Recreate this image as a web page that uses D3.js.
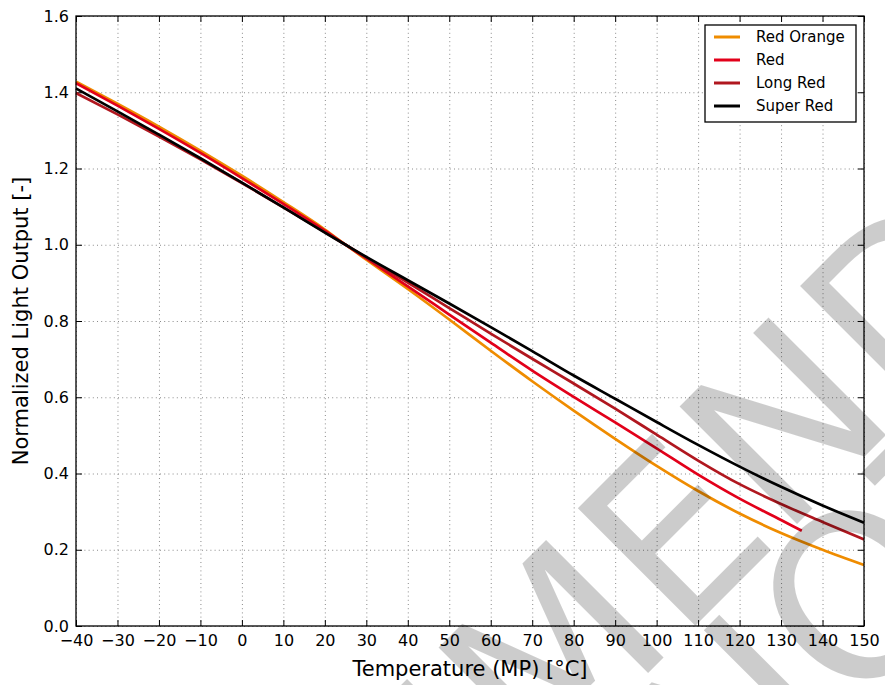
<!DOCTYPE html>
<html><head><meta charset="utf-8">
<script src="https://cdn.jsdelivr.net/npm/d3@7"></script>
<style>
body{margin:0;background:#fff}
svg{display:block}
text{font-family:"DejaVu Sans",sans-serif}
</style>
</head><body>
<svg id="chart" width="885" height="685"></svg>
<script>
// ---- data ----
const temps = [-40,-30,-20,-10,0,10,20,25,30,40,50,60,70,80,90,100,110,120,130,140,150];
const redTemps = [-40,-30,-20,-10,0,10,20,25,30,40,50,60,70,80,90,100,110,120,130,135];
const redOrange = [1.428,1.370,1.310,1.247,1.181,1.112,1.040,1.0,0.961,0.884,0.804,0.722,0.642,0.565,0.491,0.420,0.354,0.295,0.244,0.200,0.160];
const red = [1.424,1.365,1.304,1.241,1.175,1.107,1.037,1.0,0.964,0.891,0.817,0.743,0.670,0.601,0.534,0.466,0.397,0.334,0.278,0.250];
const longRed = [1.398,1.342,1.284,1.224,1.162,1.098,1.033,1.0,0.966,0.901,0.834,0.767,0.701,0.636,0.570,0.502,0.434,0.372,0.320,0.273,0.227];
const superRed = [1.410,1.350,1.289,1.227,1.163,1.098,1.032,1.0,0.968,0.907,0.846,0.784,0.721,0.657,0.596,0.535,0.475,0.418,0.365,0.316,0.271];
const seriesNames = ["Red Orange","Red","Long Red","Super Red"];
const seriesColors = ["#ef8c00","#e2001a","#b0171f","#000000"];
const xTicks = [-40,-30,-20,-10,0,10,20,30,40,50,60,70,80,90,100,110,120,130,140,150];
const yTicks = [0,0.2,0.4,0.6,0.8,1.0,1.2,1.4,1.6];
const xLabel = "Temperature (MP) [°C]";
const yLabel = "Normalized Light Output [-]";
const watermark1 = "NOT RECOMMENDED";
const watermark2 = "NOT RECOMMENDED";

// ---- layout ----
const PL = 76, PR = 864, PT = 16, PB = 626;
const svg = d3.select("#chart");
const x = d3.scaleLinear().domain([-40,150]).range([PL,PR]);
const y = d3.scaleLinear().domain([0,1.6]).range([PB,PT]);

// grid
const grid = svg.append("g").attr("stroke","#8a8a8a").attr("stroke-width",1).attr("stroke-dasharray","1,3.2");
grid.selectAll(".gx").data(xTicks).join("line")
  .attr("x1",d=>x(d)+0.5).attr("x2",d=>x(d)+0.5).attr("y1",PT).attr("y2",PB);
grid.selectAll(".gy").data(yTicks).join("line")
  .attr("y1",d=>y(d)+0.5).attr("y2",d=>y(d)+0.5).attr("x1",PL).attr("x2",PR);

// axes
const fmtX = d => d < 0 ? "\u2212" + (-d) : String(d);
const axB = svg.append("g").attr("transform",`translate(0,${PB})`)
  .call(d3.axisBottom(x).tickValues(xTicks).tickFormat(fmtX).tickSizeInner(-6).tickSizeOuter(0).tickPadding(9));
const axT = svg.append("g").attr("transform",`translate(0,${PT})`)
  .call(d3.axisTop(x).tickValues(xTicks).tickFormat("").tickSizeInner(-6).tickSizeOuter(0));
const axL = svg.append("g").attr("transform",`translate(${PL},0)`)
  .call(d3.axisLeft(y).tickValues(yTicks).tickFormat(d3.format(".1f")).tickSizeInner(-6).tickSizeOuter(0).tickPadding(7));
const axR = svg.append("g").attr("transform",`translate(${PR},0)`)
  .call(d3.axisRight(y).tickValues(yTicks).tickFormat("").tickSizeInner(-6).tickSizeOuter(0));
[axB,axT,axL,axR].forEach(g=>{
  g.select(".domain").remove();
  g.selectAll(".tick line").attr("stroke","#000").attr("stroke-width",1);
  g.selectAll(".tick text").attr("fill","#000").style("font-size","16px").style("font-family","'DejaVu Sans',sans-serif");
});

// lines
const seriesData = [
  temps.map((t,i)=>[t,redOrange[i]]),
  redTemps.map((t,i)=>[t,red[i]]),
  temps.map((t,i)=>[t,longRed[i]]),
  temps.map((t,i)=>[t,superRed[i]])
];
const line = d3.line().x(d=>x(d[0])).y(d=>y(d[1])).curve(d3.curveMonotoneX);
svg.append("g").selectAll("path").data(seriesData).join("path")
  .attr("d",line).attr("fill","none")
  .attr("stroke",(d,i)=>seriesColors[i]).attr("stroke-width",2.7)
  .attr("stroke-linejoin","round");

// frame
svg.append("rect").attr("x",PL).attr("y",PT).attr("width",PR-PL).attr("height",PB-PT)
  .attr("fill","none").attr("stroke","#000").attr("stroke-width",1.3);

// axis labels
svg.append("text").attr("x",(PL+PR)/2).attr("y",676).attr("text-anchor","middle")
  .style("font-size","21px").text(xLabel);
svg.append("text").attr("transform",`translate(28,${(PT+PB)/2}) rotate(-90)`).attr("text-anchor","middle")
  .style("font-size","21px").text(yLabel);

// legend
const lg = svg.append("g");
lg.append("rect").attr("x",705).attr("y",25).attr("width",151).attr("height",97)
  .attr("fill","#fff").attr("stroke","#000").attr("stroke-width",1.3);
const items = lg.selectAll(".it").data(seriesNames).join("g")
  .attr("transform",(d,i)=>`translate(0,${37+23*i})`);
items.append("line").attr("x1",714).attr("x2",740).attr("y1",0).attr("y2",0)
  .attr("stroke",(d,i)=>seriesColors[i]).attr("stroke-width",3);
items.append("text").attr("x",756).attr("y",0).attr("dy","0.36em")
  .style("font-size","15px").text(d=>d);

// watermark (semi-transparent overlay)
const wm = svg.append("g").attr("fill","#000").attr("fill-opacity",0.2).style("font-size","228px");
wm.append("text").attr("transform","translate(1252,69) rotate(-45)").attr("text-anchor","end").text(watermark1);
wm.append("text").attr("transform","translate(732,837) rotate(-45)").attr("text-anchor","start").text(watermark2);
</script>
</body></html>
